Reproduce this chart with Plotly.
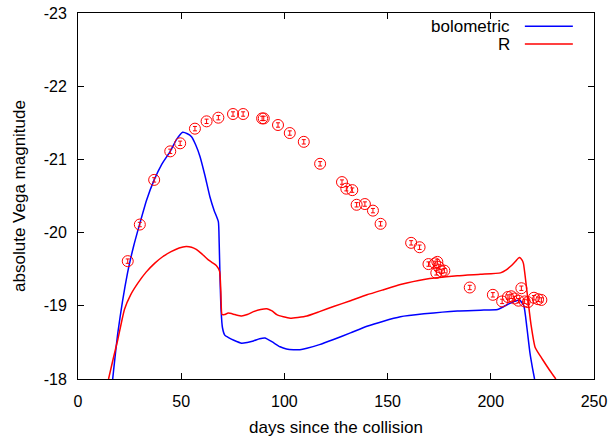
import plotly.graph_objects as go

# ---- data ----
bol_days = [16.8, 19.3, 24.0, 27.0, 30.0, 33.3, 36.9, 40.5, 44.7, 47.7, 50.7, 53.0, 55.0, 57.0,
            59.1, 61.5, 63.9, 66.0, 68.0, 68.4, 68.8, 69.3, 70.0, 71.1, 72.7, 75.5, 79.3, 82.0,
            85.0, 88.0, 90.6, 93.9, 97.9, 101.0, 104.4, 107.5, 110.9, 117.0, 123.8, 132.0, 140.0,
            148.0, 156.2, 167.6, 183.8, 195.0, 203.3, 206.3, 209.0, 211.5, 213.9, 216.0, 217.5,
            219.0, 220.2, 221.2]
bol_mag = [-18.0, -18.63, -19.45, -19.82, -20.13, -20.45, -20.72, -20.93, -21.11, -21.27, -21.37,
           -21.35, -21.31, -21.2, -21.04, -20.78, -20.49, -20.3, -20.15, -19.86, -19.4, -18.95,
           -18.7, -18.6, -18.57, -18.53, -18.49, -18.5, -18.52, -18.55, -18.56, -18.51, -18.44,
           -18.41, -18.40, -18.40, -18.42, -18.47, -18.54, -18.63, -18.72, -18.79, -18.85, -18.89,
           -18.93, -18.94, -18.95, -18.99, -19.03, -19.06, -19.08, -19.0, -18.7, -18.35, -18.15,
           -18.0]

r_days = [14.8, 17.0, 19.3, 22.5, 25.5, 29.0, 33.0, 37.1, 41.0, 45.1, 49.0, 52.4, 55.0, 57.3,
          60.0, 63.0, 65.0, 67.0, 68.6, 69.2, 69.8, 71.0, 72.8, 76.0, 79.3, 82.0, 85.0, 88.5,
          91.5, 94.0, 96.3, 99.5, 102.8, 106.5, 110.9, 117.0, 123.8, 132.0, 140.0, 148.0, 156.2,
          167.6, 183.8, 195.0, 204.7, 207.5, 209.6, 212.0, 213.3, 214.0, 215.0, 215.8, 217.5,
          219.5, 221.5, 225.0, 228.5, 231.5]
r_mag = [-18.0, -18.27, -18.54, -18.95, -19.15, -19.31, -19.46, -19.58, -19.67, -19.74, -19.79,
         -19.81, -19.8, -19.77, -19.71, -19.63, -19.59, -19.55, -19.47, -19.2, -18.88, -18.88,
         -18.9, -18.88, -18.86, -18.88, -18.92, -18.95, -18.96, -18.93, -18.88, -18.85, -18.83,
         -18.84, -18.86, -18.92, -18.99, -19.07, -19.15, -19.22, -19.29, -19.36, -19.41, -19.43,
         -19.45, -19.49, -19.54, -19.61, -19.65, -19.66, -19.63, -19.58, -19.2, -18.74, -18.43,
         -18.27, -18.12, -18.0]

obs_days = [24.1, 29.95, 36.9, 44.7, 49.5, 56.65, 62.3, 68.0, 75.1, 80.0, 89.2, 90.0, 96.9, 102.6,
            109.4, 117.3, 127.9, 130.0, 132.9, 135.0, 139.0, 142.9, 146.6, 161.4, 165.5, 169.8,
            173.0, 174.1, 174.8, 173.6, 176.2, 177.5, 189.8, 201.0, 205.5, 208.3, 209.9, 211.5,
            213.4, 214.8, 216.4, 218.0, 220.9, 222.9, 224.5]
obs_mag = [-19.61, -20.11, -20.72, -21.11, -21.22, -21.42, -21.52, -21.57, -21.62, -21.62, -21.56,
           -21.56, -21.47, -21.36, -21.24, -20.94, -20.69, -20.60, -20.58, -20.38, -20.39, -20.30,
           -20.12, -19.86, -19.80, -19.57, -19.58, -19.60, -19.53, -19.45, -19.47, -19.48, -19.25,
           -19.15, -19.06, -19.12, -19.13, -19.10, -19.07, -19.24, -19.06, -19.05, -19.11, -19.09,
           -19.08]
obs_err = [0.03] * len(obs_mag)

x_ticks = [0, 50, 100, 150, 200, 250]
y_ticks = [-18, -19, -20, -21, -22, -23]
y_tick_text = ["-18", "-19", "-20", "-21", "-22", "-23"]

FONT = "Liberation Sans, Arial, sans-serif"
TICK_SIZE = 16
TEXT_SIZE = 17

fig = go.Figure()
fig.add_trace(go.Scatter(x=bol_days, y=bol_mag, mode="lines", name="bolometric",
                         line=dict(color="#0000ff", width=1.5, shape="spline", smoothing=0.5)))
fig.add_trace(go.Scatter(x=r_days, y=r_mag, mode="lines", name="R",
                         line=dict(color="#ff0000", width=1.5, shape="spline", smoothing=0.5)))
fig.add_trace(go.Scatter(x=obs_days, y=obs_mag, mode="markers", showlegend=False,
                         marker=dict(symbol="circle-open", size=11, color="#ff0000",
                                     line=dict(width=1, color="#ff0000")),
                         error_y=dict(type="data", array=obs_err, color="#ff0000",
                                      thickness=1, width=2)))

# gnuplot-style key: text right-aligned, line sample to the right
key = [("bolometric", "#0000ff", 0.964), ("R", "#ff0000", 0.915)]
for label, col, yy in key:
    fig.add_annotation(x=0.842, y=yy, xref="paper", yref="paper", text=label,
                       showarrow=False, xanchor="right", yanchor="middle",
                       font=dict(family=FONT, size=TEXT_SIZE, color="black"))
    fig.add_shape(type="line", xref="paper", yref="paper", x0=0.866, x1=0.959,
                  y0=yy, y1=yy, line=dict(color=col, width=1.5))

axis_common = dict(showline=True, linecolor="black", linewidth=1, mirror="allticks",
                   ticks="inside", ticklen=6, tickcolor="black", showgrid=False,
                   zeroline=False, automargin=False, ticklabeloverflow="allow",
                   tickfont=dict(family=FONT, size=TICK_SIZE, color="black"))

fig.update_xaxes(range=[0, 250], tickvals=x_ticks, ticklabelstandoff=8,
                 title=dict(text="days since the collision", standoff=12,
                            font=dict(family=FONT, size=TEXT_SIZE, color="black")),
                 **axis_common)
fig.update_yaxes(range=[-18, -23], tickvals=y_ticks, ticktext=y_tick_text,
                 ticklabelstandoff=7,
                 title=dict(text="absolute Vega magnitude", standoff=13,
                            font=dict(family=FONT, size=TEXT_SIZE, color="black")),
                 **axis_common)

fig.update_layout(width=612, height=437, showlegend=False,
                  margin=dict(l=78, r=18, t=13, b=58),
                  paper_bgcolor="white", plot_bgcolor="white",
                  font=dict(family=FONT, size=TEXT_SIZE, color="black"))

# remove the browser's default 8px page margin so the figure fills the window
fig.write_html("out.html", config={"displayModeBar": False},
               post_script="document.body.style.margin='0';")
